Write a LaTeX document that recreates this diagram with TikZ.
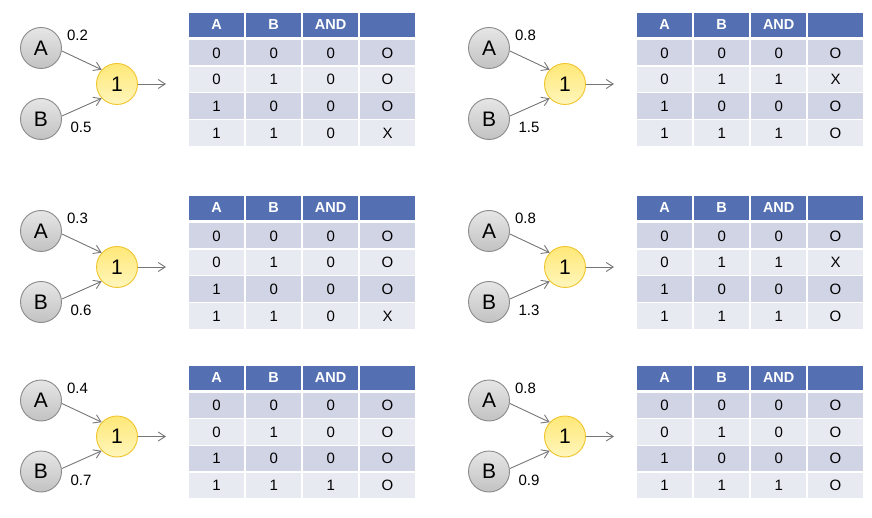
\documentclass[tikz,border=0pt]{standalone}
\usepackage{fontspec}
\setmainfont{Liberation Sans}
\usetikzlibrary{arrows.meta}
\definecolor{hdrblue}{HTML}{5470B2}
\definecolor{rowdark}{HTML}{D1D4E5}
\definecolor{rowlight}{HTML}{E8EAF2}
\definecolor{conncol}{HTML}{767676}
\definecolor{inpborder}{HTML}{8A8A8A}
\definecolor{inptop}{HTML}{E6E6E6}
\definecolor{inpbot}{HTML}{C2C2C2}
\definecolor{yltop}{HTML}{FFE878}
\definecolor{ylbot}{HTML}{FFF6BC}
\definecolor{ylborder}{HTML}{F0C42C}
\tikzset{
  inp/.style={circle, draw=inpborder, line width=0.9pt, minimum size=41pt, inner sep=0pt,
    top color=inptop, bottom color=inpbot, font=\fontsize{21}{21}\selectfont},
  neuron/.style={circle, draw=ylborder, line width=0.9pt, minimum size=41pt, inner sep=0pt,
    top color=yltop, bottom color=ylbot, font=\fontsize{21}{21}\selectfont},
  conn/.style={draw=conncol, line width=0.9pt, -{Straight Barb[length=7pt,width=9pt]}},
  wlab/.style={inner sep=0pt, font=\fontsize{15}{15}\selectfont},
  hdrtxt/.style={inner sep=0pt, text=white, font=\fontsize{14.5}{14.5}\selectfont\bfseries},
  celltxt/.style={inner sep=0pt, font=\fontsize{15}{15}\selectfont},
  sep/.style={draw=white, line width=1.7pt}
}
\newcommand\panel[6]{%
\begin{scope}[shift={(#1,#2)}]
  \node[inp] (#6A) at (41,48) {A};
  \node[inp] (#6B) at (41,119) {B};
  \node[neuron] (#6Y) at (117,84) {1};
  \coordinate (#6O) at (166,84);
  \draw[conn] (#6A.-8) -- (#6Y.137);
  \draw[conn] (#6B.8) -- (#6Y.223);
  \draw[conn] (#6Y.east) -- (#6O);
  \node[wlab] (#6wa) at (77.5,35.7) {#3};
  \node[wlab] (#6wb) at (81,127.5) {#4};
  \fill[hdrblue] (189,13) rectangle (415,37);
  \draw[sep] (245.2,13) -- (245.2,37) (302.2,13) -- (302.2,37) (359.2,13) -- (359.2,37);
  \node[hdrtxt] (#6h1) at (216.5,25) {A};
  \node[hdrtxt] (#6h2) at (273.7,25) {B};
  \node[hdrtxt] (#6h3) at (330.7,25) {AND};
  \foreach \a/\b/\c/\r [count=\i] in {#5} {
    \pgfmathsetmacro\yt{40+(\i-1)*26.7}
    \pgfmathsetmacro\yb{\yt+25.5}
    \pgfmathsetmacro\ym{\yt+12.9}
    \ifodd\i\def\rc{rowdark}\else\def\rc{rowlight}\fi
    \fill[\rc] (189,\yt) rectangle (415,\yb);
    \draw[sep] (245.2,\yt) -- (245.2,\yb) (302.2,\yt) -- (302.2,\yb) (359.2,\yt) -- (359.2,\yb);
    \node[celltxt] (#6r\i c1) at (216.5,\ym) {\a};
    \node[celltxt] (#6r\i c2) at (273.7,\ym) {\b};
    \node[celltxt] (#6r\i c3) at (330.7,\ym) {\c};
    \node[celltxt] (#6r\i c4) at (387.5,\ym) {\r};
  }
\end{scope}}
\begin{document}
\begin{tikzpicture}[x=1pt,y=-1pt]
\useasboundingbox (0,0) rectangle (872,518);
\panel{0}{0}{0.2}{0.5}{0/0/0/O,0/1/0/O,1/0/0/O,1/1/0/X}{p1}
\panel{448}{0}{0.8}{1.5}{0/0/0/O,0/1/1/X,1/0/0/O,1/1/1/O}{p2}
\panel{0}{183}{0.3}{0.6}{0/0/0/O,0/1/0/O,1/0/0/O,1/1/0/X}{p3}
\panel{448}{183}{0.8}{1.3}{0/0/0/O,0/1/1/X,1/0/0/O,1/1/1/O}{p4}
\panel{0}{352.5}{0.4}{0.7}{0/0/0/O,0/1/0/O,1/0/0/O,1/1/1/O}{p5}
\panel{448}{352.5}{0.8}{0.9}{0/0/0/O,0/1/0/O,1/0/0/O,1/1/1/O}{p6}
\end{tikzpicture}
\end{document}
